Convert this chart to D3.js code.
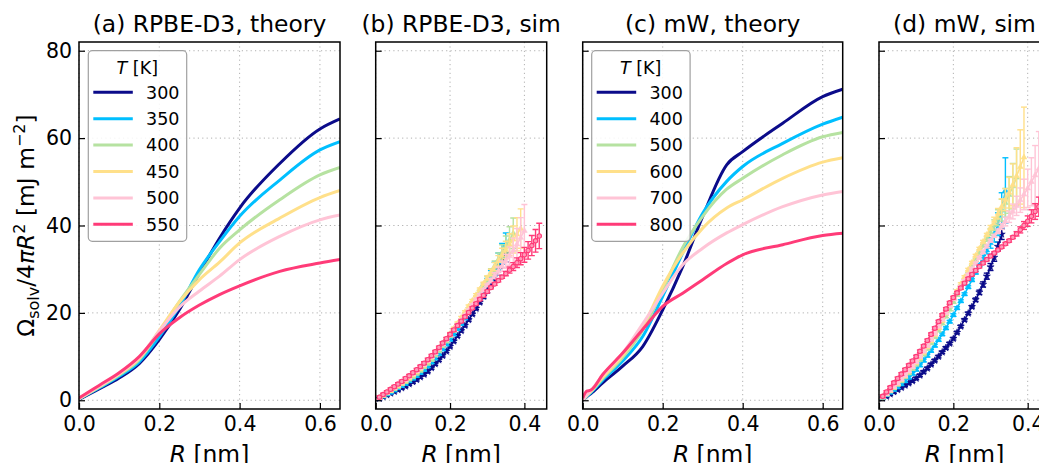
<!DOCTYPE html>
<html lang="en">
<head>
<meta charset="UTF-8">
<title>Solvation free energy per area</title>
<script src="https://d3js.org/d3.v7.min.js"></script>
<style>
  body { margin: 0; background: #fff; font-family: "DejaVu Sans", sans-serif; }
  .grid line { stroke: #b0b0b0; stroke-width: 1; stroke-dasharray: 1.2,3.2; }
  .frame { fill: none; stroke: #000; stroke-width: 1.5; }
  .axis text { font-family: "DejaVu Sans", sans-serif; font-size: 20.5px; fill: #000; }
  .axis line { stroke: #000; stroke-width: 1.2; }
  .title, .axis-label { font-size: 23.4px; fill: #000; }
  .legend text { font-size: 17.5px; }
</style>
</head>
<body>
<svg id="chart" width="1039" height="463"></svg>
<script>
// temperatures and colours
const tempsRPBE = [300, 350, 400, 450, 500, 550];
const tempsMW = [300, 400, 500, 600, 700, 800];
const colors = ["#0b0b8a", "#00bfff", "#b6e2a1", "#ffe08a", "#ffc4d6", "#ff3b78"];

const xTicks = [0, 0.2, 0.4, 0.6];
const yTicks = [0, 20, 40, 60, 80];

// (a) RPBE-D3 theory
const rTheoryA = [0, 0.05, 0.1, 0.15, 0.2, 0.25, 0.3, 0.35, 0.4, 0.5, 0.6, 0.65];
const theoryA = [
  [0.2, 2.6, 5.1, 8.4, 13.9, 20.7, 29.1, 37.1, 44.0, 54.2, 62.1, 64.4],
  [0.3, 2.8, 5.5, 8.8, 14.5, 21.5, 29.9, 36.3, 42.1, 50.4, 57.3, 59.2],
  [0.3, 3.0, 5.8, 9.3, 15.6, 22.6, 28.8, 34.8, 39.0, 45.9, 51.6, 53.3],
  [0.4, 3.1, 6.0, 9.6, 16.0, 22.5, 27.6, 31.6, 36.0, 41.7, 46.4, 48.0],
  [0.4, 3.2, 6.1, 9.8, 15.8, 21.3, 25.0, 28.4, 32.2, 37.5, 41.3, 42.4],
  [0.5, 3.4, 6.3, 10.0, 15.2, 18.9, 21.8, 24.2, 26.2, 29.5, 31.4, 32.2]
];

// (c) mW theory
const rTheoryC = [0, 0.01, 0.02, 0.05, 0.1, 0.15, 0.2, 0.25, 0.3, 0.36, 0.4, 0.5, 0.6, 0.65];
const theoryC = [
  [0, 0.8, 1.5, 4.0, 7.8, 12.3, 20.7, 30.6, 42.1, 53.9, 56.9, 63.4, 69.5, 71.2],
  [0, 0.9, 1.7, 4.6, 9.0, 14.6, 23.8, 33.7, 42.8, 50.1, 53.5, 58.8, 63.2, 64.8],
  [0, 1.0, 1.9, 5.0, 9.8, 16.0, 25.3, 35.0, 42.1, 48.3, 50.8, 56.2, 60.3, 61.3],
  [0, 1.1, 2.0, 5.3, 10.3, 16.8, 26.1, 33.7, 39.4, 44.0, 45.9, 50.8, 54.5, 55.5],
  [0, 1.2, 2.2, 5.7, 10.8, 17.5, 24.5, 31.0, 34.8, 38.3, 40.2, 44.3, 47.0, 47.8],
  [0.5, 2.1, 2.3, 5.9, 10.8, 16.2, 21.5, 24.5, 27.6, 31.3, 33.3, 35.6, 37.7, 38.2]
];

// simulation radii (each series uses the first values)
const rSim = [0.01, 0.02, 0.03, 0.04, 0.05, 0.06, 0.07, 0.08, 0.09, 0.10,
  0.11, 0.12, 0.13, 0.14, 0.15, 0.16, 0.17, 0.18, 0.19, 0.20,
  0.21, 0.22, 0.23, 0.24, 0.25, 0.26, 0.27, 0.28, 0.29, 0.30,
  0.31, 0.32, 0.33, 0.34, 0.35, 0.36, 0.37, 0.38, 0.39, 0.40,
  0.41, 0.42, 0.43, 0.44, 0.45, 0.46, 0.47];

// (b) RPBE-D3 sim
const simB = [
  [0.4, 0.8, 1.2, 1.6, 2.0, 2.4, 2.8, 3.2, 3.7, 4.2, 4.7, 5.3, 5.9, 6.6, 7.4, 8.3, 9.2, 10.2, 11.2, 12.3,
   13.5, 14.7, 15.9, 17.1, 18.4, 19.7, 21.0, 22.4, 23.8, 25.2, 26.7, 28.3, 30.0, 31.8, 33.6],
  [0.5, 0.9, 1.4, 1.8, 2.3, 2.8, 3.3, 3.8, 4.4, 5.0, 5.6, 6.3, 7.0, 7.8, 8.7, 9.6, 10.6, 11.7, 12.8, 13.9,
   15.1, 16.3, 17.5, 18.8, 20.1, 21.4, 22.7, 24.1, 25.5, 27.0, 28.5, 30.1, 31.8, 33.6, 35.5],
  [0.6, 1.1, 1.6, 2.1, 2.6, 3.1, 3.7, 4.2, 4.8, 5.4, 6.1, 6.8, 7.6, 8.4, 9.3, 10.3, 11.3, 12.4, 13.5, 14.7,
   15.9, 17.1, 18.3, 19.6, 20.9, 22.2, 23.5, 24.9, 26.3, 27.7, 29.2, 30.7, 32.2, 33.7, 35.2, 36.7, 38.2],
  [0.6, 1.1, 1.7, 2.2, 2.8, 3.3, 3.9, 4.5, 5.1, 5.8, 6.5, 7.2, 8.0, 8.9, 9.8, 10.8, 11.8, 12.9, 14.0, 15.2,
   16.4, 17.6, 18.9, 20.2, 21.5, 22.8, 24.1, 25.4, 26.7, 28.0, 29.3, 30.6, 31.9, 33.2, 34.4, 35.6, 36.8, 38.0, 39.3],
  [0.6, 1.2, 1.8, 2.4, 2.9, 3.5, 4.1, 4.7, 5.4, 6.0, 6.7, 7.4, 8.2, 9.0, 9.9, 10.8, 11.8, 12.8, 13.9, 15.0,
   16.1, 17.2, 18.3, 19.4, 20.6, 21.8, 23.0, 24.1, 25.2, 26.3, 27.4, 28.5, 29.6, 30.7, 31.8, 33.0, 34.3, 35.7, 37.2, 38.8],
  [0.7, 1.3, 1.9, 2.5, 3.1, 3.7, 4.3, 5.0, 5.6, 6.3, 7.0, 7.7, 8.5, 9.3, 10.2, 11.1, 12.1, 13.1, 14.1, 15.1,
   16.1, 17.1, 18.1, 19.1, 20.1, 21.1, 22.1, 23.1, 24.0, 24.9, 25.8, 26.6, 27.4, 28.2, 29.0, 29.8, 30.6, 31.5, 32.4, 33.3,
   34.3, 35.4, 36.5, 37.6]
];
const errB = [
  [0.3, 0.3, 0.3, 0.3, 0.3, 0.3, 0.3, 0.3, 0.3, 0.3, 0.3, 0.3, 0.3, 0.3, 0.3, 0.3, 0.3, 0.3, 0.3, 0.3,
   0.3, 0.3, 0.3, 0.3, 0.3, 0.3, 0.3, 0.3, 0.5, 0.6, 0.8, 1.0, 1.3, 1.6, 2.0],
  [0.3, 0.3, 0.3, 0.3, 0.3, 0.3, 0.3, 0.3, 0.3, 0.3, 0.3, 0.3, 0.3, 0.3, 0.3, 0.3, 0.3, 0.3, 0.3, 0.3,
   0.3, 0.3, 0.3, 0.3, 0.3, 0.3, 0.3, 0.5, 0.7, 0.9, 1.2, 1.5, 1.9, 2.3, 2.8],
  [0.3, 0.3, 0.3, 0.3, 0.3, 0.3, 0.3, 0.3, 0.3, 0.3, 0.3, 0.3, 0.3, 0.3, 0.3, 0.3, 0.3, 0.3, 0.3, 0.3,
   0.3, 0.3, 0.3, 0.3, 0.3, 0.3, 0.3, 0.3, 0.5, 0.7, 0.9, 1.2, 1.5, 1.9, 2.4, 3.0, 3.5],
  [0.3, 0.3, 0.3, 0.3, 0.3, 0.3, 0.3, 0.3, 0.3, 0.3, 0.3, 0.3, 0.3, 0.3, 0.3, 0.3, 0.3, 0.3, 0.3, 0.3,
   0.3, 0.3, 0.3, 0.3, 0.3, 0.3, 0.3, 0.3, 0.3, 0.5, 0.7, 0.9, 1.2, 1.6, 2.0, 2.5, 3.1, 3.8, 4.5],
  [0.3, 0.3, 0.3, 0.3, 0.3, 0.3, 0.3, 0.3, 0.3, 0.3, 0.3, 0.3, 0.3, 0.3, 0.3, 0.3, 0.3, 0.3, 0.3, 0.3,
   0.3, 0.3, 0.3, 0.3, 0.3, 0.3, 0.3, 0.3, 0.3, 0.3, 0.5, 0.7, 0.9, 1.2, 1.6, 2.1, 2.8, 3.6, 4.6, 6.0],
  [0.3, 0.3, 0.3, 0.3, 0.3, 0.3, 0.3, 0.3, 0.3, 0.3, 0.3, 0.3, 0.3, 0.3, 0.3, 0.3, 0.3, 0.3, 0.3, 0.3,
   0.3, 0.3, 0.3, 0.3, 0.3, 0.3, 0.3, 0.3, 0.3, 0.3, 0.3, 0.3, 0.3, 0.3, 0.5, 0.7, 0.9, 1.1, 1.4, 1.7,
   2.0, 2.3, 2.6, 2.9]
];

// (d) mW sim
const simD = [
  [0.5, 0.9, 1.4, 1.9, 2.4, 2.9, 3.4, 3.9, 4.4, 5.0, 5.7, 6.5, 7.3, 8.2, 9.1, 10.0, 11.0, 12.0, 13.0, 14.1,
   15.5, 16.9, 18.4, 19.9, 21.4, 23.0, 24.7, 26.5, 28.4, 30.5, 32.7, 35.2, 38.0],
  [0.6, 1.2, 1.8, 2.4, 3.0, 3.7, 4.4, 5.2, 6.1, 7.0, 8.0, 9.1, 10.2, 11.3, 12.5, 13.8, 15.1, 16.5, 18.0, 19.5,
   21.1, 22.7, 24.3, 25.9, 27.5, 29.2, 30.9, 32.6, 34.3, 36.0, 38.0, 40.3, 43.5, 48.0],
  [0.7, 1.4, 2.1, 2.8, 3.6, 4.4, 5.3, 6.2, 7.2, 8.2, 9.3, 10.5, 11.8, 13.1, 14.5, 16.0, 17.6, 19.2, 20.8, 22.5,
   24.1, 25.7, 27.3, 28.9, 30.5, 32.1, 33.7, 35.3, 36.9, 38.5, 40.1, 41.8, 43.5, 45.2, 47.0, 49.0, 51.0],
  [0.7, 1.4, 2.2, 3.0, 3.8, 4.7, 5.6, 6.6, 7.6, 8.6, 9.7, 10.9, 12.2, 13.6, 15.0, 16.6, 18.2, 19.9, 21.6, 23.3,
   25.0, 26.6, 28.2, 29.9, 31.5, 33.1, 34.7, 36.3, 37.9, 39.5, 41.1, 42.7, 44.3, 45.9, 47.5, 49.3, 51.3, 53.4, 55.6],
  [0.8, 1.5, 2.3, 3.1, 3.9, 4.8, 5.7, 6.7, 7.7, 8.8, 10.0, 11.2, 12.5, 13.9, 15.3, 16.9, 18.5, 20.0, 21.6, 23.2,
   24.6, 26.0, 27.3, 28.7, 30.0, 31.3, 32.6, 33.9, 35.2, 36.5, 37.6, 38.7, 39.8, 40.9, 42.0, 43.2, 44.5, 45.8, 47.1, 48.5,
   50.0, 51.5, 53.0],
  [0.9, 1.9, 2.9, 4.0, 5.0, 6.0, 7.0, 8.0, 9.0, 10.0, 11.2, 12.4, 13.7, 15.1, 16.5, 18.0, 19.5, 20.9, 22.3, 23.5,
   24.6, 25.7, 26.8, 27.8, 28.8, 29.7, 30.6, 31.4, 32.2, 33.0, 33.7, 34.4, 35.1, 35.8, 36.5, 37.3, 38.1, 39.0, 40.0, 41.0,
   42.1, 43.2, 44.3, 45.4, 46.5, 47.6, 48.7]
];
const errD = [
  [0.3, 0.3, 0.3, 0.3, 0.3, 0.3, 0.3, 0.3, 0.3, 0.3, 0.3, 0.3, 0.3, 0.3, 0.3, 0.3, 0.3, 0.3, 0.3, 0.3,
   0.3, 0.3, 0.3, 0.3, 0.3, 0.4, 0.5, 0.6, 0.7, 0.8, 0.9, 1.0, 1.2],
  [0.3, 0.3, 0.3, 0.3, 0.3, 0.3, 0.3, 0.3, 0.3, 0.3, 0.3, 0.3, 0.3, 0.3, 0.3, 0.3, 0.3, 0.3, 0.3, 0.3,
   0.3, 0.3, 0.3, 0.3, 0.3, 0.3, 0.3, 0.5, 0.8, 1.2, 1.8, 2.6, 4.0, 7.5],
  [0.3, 0.3, 0.3, 0.3, 0.3, 0.3, 0.3, 0.3, 0.3, 0.3, 0.3, 0.3, 0.3, 0.3, 0.3, 0.3, 0.3, 0.3, 0.3, 0.3,
   0.3, 0.3, 0.3, 0.3, 0.3, 0.3, 0.3, 0.3, 0.5, 0.8, 1.2, 1.8, 2.5, 3.3, 4.2, 5.2, 6.5],
  [0.3, 0.3, 0.3, 0.3, 0.3, 0.3, 0.3, 0.3, 0.3, 0.3, 0.3, 0.3, 0.3, 0.3, 0.3, 0.3, 0.3, 0.3, 0.3, 0.3,
   0.3, 0.3, 0.3, 0.3, 0.3, 0.3, 0.3, 0.3, 0.3, 0.5, 0.8, 1.2, 1.8, 2.5, 3.5, 4.8, 6.5, 8.5, 11.5],
  [0.3, 0.3, 0.3, 0.3, 0.3, 0.3, 0.3, 0.3, 0.3, 0.3, 0.3, 0.3, 0.3, 0.3, 0.3, 0.3, 0.3, 0.3, 0.3, 0.3,
   0.3, 0.3, 0.3, 0.3, 0.3, 0.3, 0.3, 0.3, 0.3, 0.3, 0.3, 0.5, 0.7, 1.0, 1.3, 1.7, 2.2, 2.8, 3.5, 4.4,
   5.5, 6.8, 8.5],
  [0.3, 0.3, 0.3, 0.3, 0.3, 0.3, 0.3, 0.3, 0.3, 0.3, 0.3, 0.3, 0.3, 0.3, 0.3, 0.3, 0.3, 0.3, 0.3, 0.3,
   0.3, 0.3, 0.3, 0.3, 0.3, 0.3, 0.3, 0.3, 0.3, 0.3, 0.3, 0.3, 0.3, 0.3, 0.3, 0.3, 0.5, 0.7, 0.9, 1.2,
   1.5, 1.8, 2.2, 2.6, 3.0, 3.5, 4.0]
];

// layout
const svg = d3.select("#chart");
const plotTop = 42, plotBottom = 409;
const y = d3.scaleLinear().domain([-2, 82]).range([plotBottom, plotTop]);

const panels = [
  { key: "a", title: "(a) RPBE-D3, theory", left: 79, right: 340, xmax: 0.65, type: "theory",
    r: rTheoryA, vals: theoryA, temps: tempsRPBE, legend: 88.3, ylabels: true },
  { key: "b", title: "(b) RPBE-D3, sim", left: 375.7, right: 546.7, xmax: 0.46, type: "sim",
    vals: simB, errs: errB },
  { key: "c", title: "(c) mW, theory", left: 582.7, right: 842.7, xmax: 0.65, type: "theory",
    r: rTheoryC, vals: theoryC, temps: tempsMW, legend: 591.7 },
  { key: "d", title: "(d) mW, sim", left: 879, right: 1050, xmax: 0.46, type: "sim",
    vals: simD, errs: errD }
];

panels.forEach(p => {
  const x = d3.scaleLinear().domain([0, p.xmax]).range([p.left, p.right]);
  const g = svg.append("g");
  const xt = xTicks.filter(t => t <= p.xmax);

  // clip
  svg.append("clipPath").attr("id", "clip-" + p.key)
    .append("rect").attr("x", p.left).attr("y", plotTop)
    .attr("width", p.right - p.left).attr("height", plotBottom - plotTop);

  // grid
  const grid = g.append("g").attr("class", "grid");
  grid.selectAll(".gx").data(xt).join("line")
    .attr("x1", d => x(d)).attr("x2", d => x(d))
    .attr("y1", plotTop).attr("y2", plotBottom);
  grid.selectAll(".gy").data(yTicks).join("line")
    .attr("x1", p.left).attr("x2", p.right)
    .attr("y1", d => y(d)).attr("y2", d => y(d));

  const plot = g.append("g").attr("clip-path", `url(#clip-${p.key})`);

  if (p.type === "theory") {
    const line = d3.line().x((d, i) => x(p.r[i])).y(d => y(d)).curve(d3.curveMonotoneX);
    p.vals.forEach((s, k) => {
      plot.append("path").datum(s)
        .attr("fill", "none").attr("stroke", colors[k])
        .attr("stroke-width", 3).attr("stroke-linejoin", "round")
        .attr("d", line);
    });
  } else {
    const line = d3.line().x((d, i) => x(rSim[i])).y(d => y(d));
    p.vals.forEach((s, k) => {
      const c = colors[k];
      const sg = plot.append("g");
      sg.append("path").datum(s)
        .attr("fill", "none").attr("stroke", c).attr("stroke-width", 1.6)
        .attr("d", line);
      const pts = s.map((v, i) => ({ r: rSim[i], v: v, e: p.errs[k][i] }));
      const eb = sg.append("g").attr("stroke", c).attr("stroke-width", 1.4);
      eb.selectAll(".ev").data(pts).join("line")
        .attr("x1", d => x(d.r)).attr("x2", d => x(d.r))
        .attr("y1", d => y(d.v - d.e)).attr("y2", d => y(d.v + d.e));
      eb.selectAll(".ct").data(pts).join("line")
        .attr("x1", d => x(d.r) - 3).attr("x2", d => x(d.r) + 3)
        .attr("y1", d => y(d.v + d.e)).attr("y2", d => y(d.v + d.e));
      eb.selectAll(".cb").data(pts).join("line")
        .attr("x1", d => x(d.r) - 3).attr("x2", d => x(d.r) + 3)
        .attr("y1", d => y(d.v - d.e)).attr("y2", d => y(d.v - d.e));
      if (k === 5) {
        sg.selectAll("circle").data(pts).join("circle")
          .attr("cx", d => x(d.r)).attr("cy", d => y(d.v)).attr("r", 2.2)
          .attr("fill", "#ff9ab8").attr("stroke", c).attr("stroke-width", 1.1);
      } else {
        const sym = d3.symbol().type(k === 0 ? d3.symbolStar : d3.symbolTriangle).size(k === 0 ? 16 : 14);
        sg.selectAll(".m").data(pts).join("path")
          .attr("transform", d => `translate(${x(d.r)},${y(d.v)})`)
          .attr("d", sym).attr("fill", c).attr("stroke", c).attr("stroke-width", 0.6);
      }
    });
  }

  // axes with inward ticks
  const xa = g.append("g").attr("class", "axis")
    .attr("transform", `translate(0,${plotBottom})`)
    .call(d3.axisBottom(x).tickValues(xt).tickSizeInner(-6).tickSizeOuter(0)
      .tickPadding(7).tickFormat(d3.format(".1f")));
  xa.select(".domain").remove();

  const ya = g.append("g").attr("class", "axis")
    .attr("transform", `translate(${p.left},0)`)
    .call(d3.axisLeft(y).tickValues(yTicks).tickSizeInner(-6).tickSizeOuter(0)
      .tickPadding(7).tickFormat(p.ylabels ? d3.format("d") : () => ""));
  ya.select(".domain").remove();

  g.append("rect").attr("class", "frame")
    .attr("x", p.left).attr("y", plotTop)
    .attr("width", p.right - p.left).attr("height", plotBottom - plotTop);

  // title and x label
  const cx = (p.left + p.right) / 2;
  g.append("text").attr("class", "title").attr("x", cx).attr("y", 32)
    .attr("text-anchor", "middle").text(p.title);
  const xl = g.append("text").attr("class", "axis-label").attr("x", cx).attr("y", 462)
    .attr("text-anchor", "middle");
  xl.append("tspan").attr("font-style", "italic").text("R");
  xl.append("tspan").text(" [nm]");

  // legend
  if (p.legend !== undefined) {
    const lg = g.append("g").attr("class", "legend");
    const lx = p.legend, ly = 50.7;
    lg.append("rect").attr("x", lx).attr("y", ly).attr("width", 98.4).attr("height", 190.6)
      .attr("rx", 4).attr("fill", "#fff").attr("fill-opacity", 0.85)
      .attr("stroke", "#a0a0a0").attr("stroke-width", 1.2);
    const lt = lg.append("text").attr("x", lx + 49).attr("y", 73.5).attr("text-anchor", "middle");
    lt.append("tspan").attr("font-style", "italic").text("T");
    lt.append("tspan").text(" [K]");
    p.temps.forEach((t, k) => {
      const ry = 92.3 + k * 26.4;
      lg.append("line").attr("x1", lx + 5).attr("x2", lx + 44.5)
        .attr("y1", ry).attr("y2", ry)
        .attr("stroke", colors[k]).attr("stroke-width", 3);
      lg.append("text").attr("x", lx + 57.7).attr("y", ry).attr("dy", "0.36em").text(t);
    });
  }
});

// y axis label
const yl = svg.append("text").attr("class", "axis-label")
  .attr("transform", "translate(34,225.5) rotate(-90)")
  .attr("text-anchor", "middle");
yl.append("tspan").text("Ω");
yl.append("tspan").attr("font-size", "16px").attr("dy", "5").text("solv");
yl.append("tspan").attr("dy", "-5").text("/4");
yl.append("tspan").attr("font-style", "italic").text("πR");
yl.append("tspan").attr("font-size", "16px").attr("dy", "-9").text("2");
yl.append("tspan").attr("dy", "9").text(" [mJ m");
yl.append("tspan").attr("font-size", "16px").attr("dy", "-9").text("−2");
yl.append("tspan").attr("dy", "9").text("]");
</script>
</body>
</html>
